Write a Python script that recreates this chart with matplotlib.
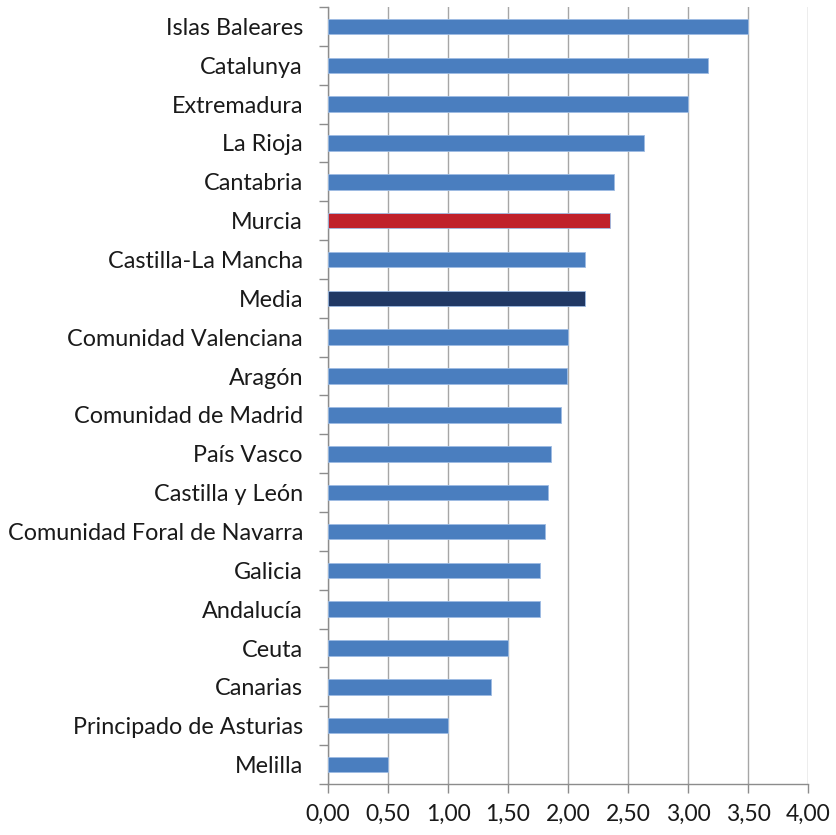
import matplotlib
matplotlib.use("Agg")
import matplotlib.pyplot as plt
from matplotlib.ticker import FixedLocator, FuncFormatter

categories = ["Islas Baleares", "Catalunya", "Extremadura", "La Rioja", "Cantabria",
              "Murcia", "Castilla-La Mancha", "Media", "Comunidad Valenciana", "Aragón",
              "Comunidad de Madrid", "País Vasco", "Castilla y León",
              "Comunidad Foral de Navarra", "Galicia", "Andalucía", "Ceuta", "Canarias",
              "Principado de Asturias", "Melilla"]
values = [3.50, 3.17, 3.00, 2.63, 2.38, 2.35, 2.14, 2.14, 2.00, 1.99,
          1.94, 1.86, 1.83, 1.81, 1.77, 1.77, 1.50, 1.36, 1.00, 0.50]
x_ticks = [0, 0.5, 1.0, 1.5, 2.0, 2.5, 3.0, 3.5, 4.0]

base_color = "#4A7EBF"
highlight = {"Murcia": "#C0202A", "Media": "#203864"}
colors = [highlight.get(c, base_color) for c in categories]

plt.rcParams['font.family'] = ['Lato', 'DejaVu Sans']

fig = plt.figure(figsize=(8.37, 8.35), dpi=100)
ax = fig.add_axes([328/837, 1-784/835, (808-328)/837, (784-7)/835])

n = len(categories)
ypos = list(range(n))
ax.barh(ypos, values, height=0.4, color=colors, edgecolor="#9DBBE3", linewidth=0.6, zorder=3)
ax.set_ylim(n - 0.5, -0.5)
ax.set_xlim(0, 4.0)

ax.set_yticks(ypos)
ax.set_yticklabels(categories, fontsize=16.8, color="#1a1a1a")
ax.yaxis.set_minor_locator(FixedLocator([i - 0.5 for i in range(n + 1)]))
ax.tick_params(axis="y", which="major", length=0, pad=18)
ax.tick_params(axis="y", which="minor", length=6.5, color="#8c8c8c", width=1)

ax.xaxis.set_major_locator(FixedLocator(x_ticks))
ax.xaxis.set_major_formatter(FuncFormatter(lambda v, p: f"{v:.2f}".replace(".", ",")))
ax.tick_params(axis="x", length=6.5, color="#8c8c8c", width=1, labelsize=16.5, pad=8, labelcolor="#1a1a1a")

ax.grid(axis="x", color="#a6a6a6", linewidth=1, zorder=0)
for s in ["top", "right"]:
    ax.spines[s].set_visible(False)
for s in ["left", "bottom"]:
    ax.spines[s].set_color("#8c8c8c")
    ax.spines[s].set_linewidth(1)

fig.savefig("out.png", dpi=100)
